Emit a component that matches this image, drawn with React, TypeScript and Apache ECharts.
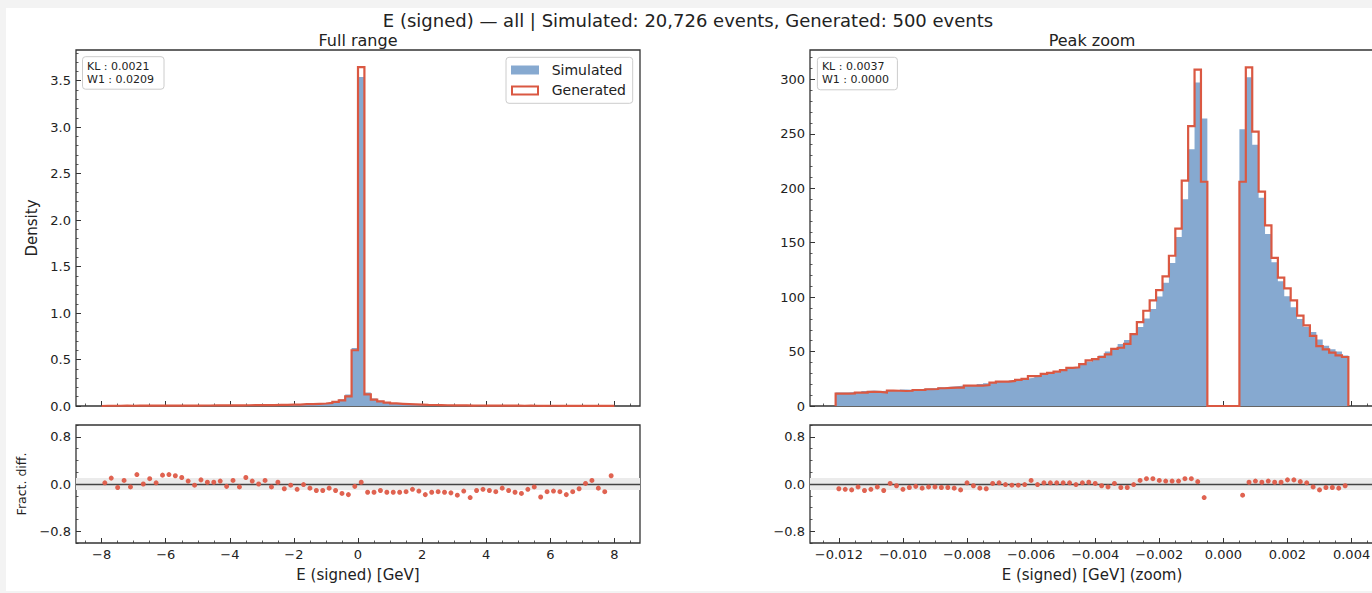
import React, { useEffect, useRef } from 'react';
import * as echarts from 'echarts';

// ---------- data ----------
const FULL_BIN_START = -8;
const FULL_BIN_WIDTH = 0.2;
const ZOOM_BIN_START = -0.0121;
const ZOOM_BIN_WIDTH = 0.0002;

const fullSimulated = [
  0.0025, 0.0026, 0.0027, 0.0028, 0.0029, 0.0030, 0.0031, 0.0032, 0.0034, 0.0035,
  0.0037, 0.0039, 0.0041, 0.0043, 0.0046, 0.0049, 0.0052, 0.0055, 0.0058, 0.0061,
  0.0065, 0.0070, 0.0075, 0.0081, 0.0088, 0.0096, 0.0106, 0.0118, 0.0133, 0.0150,
  0.0170, 0.0195, 0.0225, 0.0260, 0.0300, 0.0360, 0.0500, 0.0720, 0.1250, 0.6250,
  3.5400, 0.1450, 0.0800, 0.0560, 0.0420, 0.0330, 0.0270, 0.0225, 0.0190, 0.0162,
  0.0140, 0.0122, 0.0107, 0.0095, 0.0085, 0.0076, 0.0069, 0.0063, 0.0058, 0.0053,
  0.0049, 0.0045, 0.0042, 0.0039, 0.0037, 0.0035, 0.0033, 0.0031, 0.0030, 0.0029,
  0.0028, 0.0027, 0.0026, 0.0025, 0.0024, 0.0023, 0.0022, 0.0021, 0.0020, 0.0019,
];

const fullGenerated = [
  0.00255, 0.00286, 0.00254, 0.00297, 0.00276, 0.00348, 0.00310, 0.00349, 0.00347, 0.00403,
  0.00429, 0.00445, 0.00455, 0.00452, 0.00451, 0.00524, 0.00536, 0.00567, 0.00609, 0.00586,
  0.00689, 0.00665, 0.00833, 0.00851, 0.00880, 0.01018, 0.01007, 0.01215, 0.01224, 0.01470,
  0.01547, 0.01931, 0.02093, 0.02314, 0.02670, 0.03348, 0.04450, 0.06048, 0.10250, 0.60000,
  3.64620, 0.12470, 0.06880, 0.04984, 0.03612, 0.02838, 0.02322, 0.01958, 0.01729, 0.01426,
  0.01148, 0.01049, 0.00931, 0.00817, 0.00723, 0.00616, 0.00607, 0.00485, 0.00516, 0.00482,
  0.00436, 0.00392, 0.00391, 0.00347, 0.00318, 0.00294, 0.00300, 0.00295, 0.00234, 0.00252,
  0.00246, 0.00235, 0.00213, 0.00218, 0.00221, 0.00232, 0.00233, 0.00195, 0.00174, 0.00217,
];

const fullFractDiff = [
  0.02, 0.10, -0.06, 0.06, -0.05, 0.16, 0.00, 0.09, 0.02, 0.15,
  0.16, 0.14, 0.11, 0.05, -0.02, 0.07, 0.03, 0.03, 0.05, -0.04,
  0.06, -0.05, 0.11, 0.05, 0.00, 0.06, -0.05, 0.03, -0.08, -0.02,
  -0.09, -0.01, -0.07, -0.11, -0.11, -0.07, -0.11, -0.16, -0.18, -0.04,
  0.03, -0.14, -0.14, -0.11, -0.14, -0.14, -0.14, -0.13, -0.09, -0.12,
  -0.18, -0.14, -0.13, -0.14, -0.15, -0.19, -0.12, -0.23, -0.11, -0.09,
  -0.11, -0.13, -0.07, -0.11, -0.14, -0.16, -0.09, -0.05, -0.22, -0.13,
  -0.12, -0.13, -0.18, -0.13, -0.08, 0.01, 0.06, -0.07, -0.13, 0.14,
];

const zoomSimulated = [
  12.4, 12.5, 12.9, 12.9, 13.8, 14.3, 13.7, 13.9, 14.0, 14.4,
  15.2, 14.9, 15.3, 15.8, 16.2, 16.4, 17.3, 17.7, 18.2, 18.8,
  18.3, 19.3, 20.1, 20.9, 21.3, 22.0, 22.6, 23.5, 24.5, 25.3,
  25.9, 27.9, 28.9, 29.9, 30.9, 32.4, 34.3, 35.9, 37.7, 40.8,
  42.6, 46.4, 50.0, 52.0, 56.9, 60.6, 66.7, 72.6, 80.3, 89.0,
  100.5, 113.3, 131.4, 155.2, 189.9, 235.8, 297.1, 264.1, 0, 0,
  0, 0, 0, 254.3, 301.9, 240.0, 191.3, 158.1, 132.0, 114.6,
  100.9, 90.7, 79.8, 72.5, 67.9, 61.1, 55.3, 52.1, 50.0, 46.4,
];

const zoomGenerated = [
  11.4, 11.4, 11.6, 12.3, 12.3, 13.0, 13.0, 12.4, 14.1, 14.0,
  13.8, 14.0, 14.7, 14.7, 15.4, 15.6, 16.3, 16.6, 16.9, 16.9,
  18.7, 18.7, 18.7, 19.2, 21.5, 22.4, 22.4, 23.0, 24.0, 25.0,
  27.5, 27.6, 29.5, 30.5, 31.5, 33.0, 35.0, 35.5, 38.5, 42.0,
  43.0, 45.0, 47.5, 52.5, 53.5, 57.0, 66.0, 77.0, 87.5, 97.0,
  106.5, 119.0, 138.0, 163.0, 207.0, 257.0, 309.0, 206.0, 0, 0,
  0, 0, 0, 206.0, 311.0, 252.0, 197.0, 166.0, 136.0, 118.0,
  108.0, 97.0, 83.0, 74.0, 64.5, 55.0, 52.0, 49.0, 46.5, 45.0,
];

const zoomFractDiff: (number | null)[] = [
  -0.08, -0.09, -0.10, -0.05, -0.11, -0.09, -0.05, -0.11, 0.01, -0.03,
  -0.09, -0.06, -0.04, -0.07, -0.05, -0.05, -0.06, -0.06, -0.07, -0.10,
  0.02, -0.03, -0.07, -0.08, 0.01, 0.02, -0.01, -0.02, -0.02, -0.01,
  0.06, -0.01, 0.02, 0.02, 0.02, 0.02, 0.02, -0.01, 0.02, 0.03,
  0.01, -0.03, -0.05, 0.01, -0.06, -0.06, -0.01, 0.06, 0.09, 0.09,
  0.06, 0.05, 0.05, 0.05, 0.09, 0.09, 0.04, -0.23, null, null,
  null, null, null, -0.19, 0.03, 0.05, 0.03, 0.05, 0.03, 0.03,
  0.07, 0.07, 0.04, 0.02, -0.05, -0.10, -0.06, -0.06, -0.07, -0.03,
];

const fullXTicks = [-8, -6, -4, -2, 0, 2, 4, 6, 8];
const fullYTicks = [0, 0.5, 1, 1.5, 2, 2.5, 3, 3.5];
const zoomXTicks = [-0.012, -0.01, -0.008, -0.006, -0.004, -0.002, 0, 0.002, 0.004];
const zoomYTicks = [0, 50, 100, 150, 200, 250, 300];
const diffYTicks = [-0.8, 0, 0.8];

const TITLE = 'E (signed) — all | Simulated: 20,726 events, Generated: 500 events';
const fullStats = ['KL : 0.0021', 'W1 : 0.0209'];
const zoomStats = ['KL : 0.0037', 'W1 : 0.0000'];

// ---------- styling ----------
const FONT = 'DejaVu Sans';
const SIM_COLOR = '#86A9D0';
const GEN_COLOR = '#DA5842';
const DOT_COLOR = '#DE5B48';
const TEXT_COLOR = '#222';
const SPINE = '#333';

function minorTicks(from: number, to: number, step: number, majors: number[]) {
  const out: number[] = [];
  const n = Math.round((to - from) / step);
  for (let i = 0; i <= n; i++) {
    const v = Math.round((from + i * step) * 1e6) / 1e6;
    if (!majors.some((m) => Math.abs(m - v) < step * 1e-3)) out.push(v);
  }
  return out;
}

const minusFmt = (digits: number) => (v: number) => {
  const s = Math.abs(v).toFixed(digits);
  return (v < -1e-12 ? '\u2212' : '') + s;
};

function stepLine(start: number, width: number, vals: number[]) {
  const pts: number[][] = [[start, 0]];
  vals.forEach((v, i) => {
    pts.push([start + i * width, v]);
    pts.push([start + (i + 1) * width, v]);
  });
  pts.push([start + vals.length * width, 0]);
  return pts;
}
function centers(start: number, width: number, vals: (number | null)[]) {
  const out: number[][] = [];
  vals.forEach((v, i) => {
    if (v !== null) out.push([start + (i + 0.5) * width, v]);
  });
  return out;
}

export default function App() {
  const ref = useRef<HTMLDivElement>(null);

  useEffect(() => {
    if (!ref.current) return;
    const chart = echarts.init(ref.current, undefined, { renderer: 'svg' });

    // layout in chart coordinates (chart origin is at page (6, 8))
    const LX = 70, RX = 804, W = 564;
    const TOP = 42, TOPH = 356, BOT = 417, BOTH = 118;

    const grids = [
      { left: LX, top: TOP, width: W, height: TOPH },
      { left: LX, top: BOT, width: W, height: BOTH },
      { left: RX, top: TOP, width: W, height: TOPH },
      { left: RX, top: BOT, width: W, height: BOTH },
    ].map((g) => ({
      ...g,
      show: true,
      borderColor: SPINE,
      borderWidth: 1.3,
      backgroundColor: '#fff',
      containLabel: false,
      outerBoundsMode: 'none',
    }));

    const labelStyle = { color: TEXT_COLOR, fontSize: 13, fontFamily: FONT };

    const axis = (
      dim: 'x' | 'y',
      gridIndex: number,
      min: number,
      max: number,
      ticks: number[],
      major: boolean,
      showLabels: boolean,
      fmt?: (v: number) => string,
    ) => ({
      type: 'value',
      gridIndex,
      min,
      max,
      position: dim === 'x' ? 'bottom' : 'left',
      axisLine: { show: false, onZero: false },
      splitLine: { show: false },
      axisTick: {
        show: true,
        inside: true,
        length: major ? 5 : 2.5,
        customValues: ticks,
        lineStyle: { color: SPINE, width: major ? 1 : 0.8 },
      },
      axisLabel: {
        show: showLabels,
        customValues: ticks,
        formatter: fmt,
        margin: 5,
        ...labelStyle,
      },
    });

    const FX_MIN = -8.8, FX_MAX = 8.8;
    const ZX_MIN = -0.0129, ZX_MAX = 0.0047;
    const FY_MAX = 3.83, ZY_MAX = 327;

    const fullXMinor = minorTicks(-8.5, 8.5, 0.5, fullXTicks);
    const fullYMinor = minorTicks(0, 3.8, 0.1, fullYTicks);
    const zoomXMinor = minorTicks(-0.0125, 0.0045, 0.0005, zoomXTicks);
    const zoomYMinor = minorTicks(0, 320, 10, zoomYTicks);
    const diffYMinor = minorTicks(-1, 1, 0.2, diffYTicks);

    const xAxis = [
      axis('x', 0, FX_MIN, FX_MAX, fullXTicks, true, false),
      axis('x', 1, FX_MIN, FX_MAX, fullXTicks, true, true, minusFmt(0)),
      axis('x', 2, ZX_MIN, ZX_MAX, zoomXTicks, true, false),
      axis('x', 3, ZX_MIN, ZX_MAX, zoomXTicks, true, true, minusFmt(3)),
      axis('x', 0, FX_MIN, FX_MAX, fullXMinor, false, false),
      axis('x', 1, FX_MIN, FX_MAX, fullXMinor, false, false),
      axis('x', 2, ZX_MIN, ZX_MAX, zoomXMinor, false, false),
      axis('x', 3, ZX_MIN, ZX_MAX, zoomXMinor, false, false),
    ];
    const yAxis = [
      axis('y', 0, 0, FY_MAX, fullYTicks, true, true, minusFmt(1)),
      axis('y', 1, -1, 1, diffYTicks, true, true, minusFmt(1)),
      axis('y', 2, 0, ZY_MAX, zoomYTicks, true, true, minusFmt(0)),
      axis('y', 3, -1, 1, diffYTicks, true, true, minusFmt(1)),
      axis('y', 0, 0, FY_MAX, fullYMinor, false, false),
      axis('y', 1, -1, 1, diffYMinor, false, false),
      axis('y', 2, 0, ZY_MAX, zoomYMinor, false, false),
      axis('y', 3, -1, 1, diffYMinor, false, false),
    ];

    // filled step histogram (one polygon, no seams)
    const simSeries = (idx: number, data: number[][]) => ({
      type: 'line',
      name: 'Simulated',
      xAxisIndex: idx,
      yAxisIndex: idx,
      data,
      symbol: 'none',
      z: 2,
      lineStyle: { width: 0, color: SIM_COLOR },
      itemStyle: { color: SIM_COLOR },
      areaStyle: { color: SIM_COLOR, opacity: 1, origin: 'start' },
    });

    const genSeries = (idx: number, data: number[][]) => ({
      type: 'line',
      name: 'Generated',
      xAxisIndex: idx,
      yAxisIndex: idx,
      data,
      symbol: 'none',
      z: 4,
      clip: false,
      lineStyle: { color: GEN_COLOR, width: 2.2, join: 'miter' },
      itemStyle: { color: GEN_COLOR },
    });

    const bandSeries = (idx: number) => ({
      type: 'line',
      name: 'band',
      xAxisIndex: idx,
      yAxisIndex: idx,
      data: [],
      z: 1,
      markArea: {
        silent: true,
        itemStyle: { color: '#EBEBEB' },
        data: [[{ yAxis: -0.1 }, { yAxis: 0.1 }]],
      },
      markLine: {
        silent: true,
        symbol: 'none',
        label: { show: false },
        lineStyle: { color: '#444', width: 1.4, type: 'solid' },
        data: [{ yAxis: 0 }],
      },
    });

    const dotSeries = (idx: number, data: number[][]) => ({
      type: 'scatter',
      name: 'Fract. diff.',
      xAxisIndex: idx,
      yAxisIndex: idx,
      data,
      symbol: 'circle',
      symbolSize: 5,
      z: 5,
      itemStyle: { color: DOT_COLOR, opacity: 0.95 },
    });

    const txt = (x: number, y: number, text: string, size: number, extra: any = {}) => ({
      type: 'text',
      x,
      y,
      z: 100,
      ...extra,
      style: {
        text,
        fill: TEXT_COLOR,
        fontSize: size,
        fontFamily: FONT,
        align: 'center',
        verticalAlign: 'middle',
        ...(extra.style || {}),
      },
    });

    const statsBox = (x: number, y: number, w: number, lines: string[]) => [
      {
        type: 'rect',
        z: 99,
        shape: { x, y, width: w, height: 32.5, r: 3 },
        style: { fill: 'rgba(255,255,255,0.9)', stroke: '#CCCCCC', lineWidth: 1 },
      },
      txt(x + 4.5, y + 9.5, lines[0], 11, { style: { align: 'left' } }),
      txt(x + 4.5, y + 22.5, lines[1], 11, { style: { align: 'left' } }),
    ];

    const graphic: any[] = [
      txt(682, 12, TITLE, 18),
      txt(LX + W / 2, 32, 'Full range', 16),
      txt(RX + W / 2, 32, 'Peak zoom', 16),
      txt(26, TOP + TOPH / 2, 'Density', 15, { rotation: Math.PI / 2 }),
      txt(15, BOT + BOTH / 2, 'Fract. diff.', 12.5, { rotation: Math.PI / 2 }),
      txt(LX + W / 2, 567, 'E (signed) [GeV]', 15),
      txt(RX + W / 2, 567, 'E (signed) [GeV] (zoom)', 15),
      ...statsBox(76.5, 48.7, 81.5, fullStats),
      ...statsBox(811.4, 49.3, 80, zoomStats),
      // legend
      {
        type: 'rect',
        z: 99,
        shape: { x: 500, y: 49.3, width: 126.7, height: 46, r: 3 },
        style: { fill: 'rgba(255,255,255,0.9)', stroke: '#CCCCCC', lineWidth: 1 },
      },
      {
        type: 'rect',
        z: 100,
        shape: { x: 505, y: 57.5, width: 28, height: 9 },
        style: { fill: SIM_COLOR },
      },
      {
        type: 'rect',
        z: 100,
        shape: { x: 506, y: 78.5, width: 26, height: 8 },
        style: { fill: '#fff', stroke: GEN_COLOR, lineWidth: 2 },
      },
      txt(545.7, 61.7, 'Simulated', 14, { style: { align: 'left' } }),
      txt(545.7, 82.3, 'Generated', 14, { style: { align: 'left' } }),
    ];

    chart.setOption({
      animation: false,
      backgroundColor: '#fff',
      textStyle: { fontFamily: FONT },
      grid: grids,
      xAxis,
      yAxis,
      graphic,
      series: [
        simSeries(0, stepLine(FULL_BIN_START, FULL_BIN_WIDTH, fullSimulated)),
        genSeries(0, stepLine(FULL_BIN_START, FULL_BIN_WIDTH, fullGenerated)),
        bandSeries(1),
        dotSeries(1, centers(FULL_BIN_START, FULL_BIN_WIDTH, fullFractDiff)),
        simSeries(2, stepLine(ZOOM_BIN_START, ZOOM_BIN_WIDTH, zoomSimulated)),
        genSeries(2, stepLine(ZOOM_BIN_START, ZOOM_BIN_WIDTH, zoomGenerated)),
        bandSeries(3),
        dotSeries(3, centers(ZOOM_BIN_START, ZOOM_BIN_WIDTH, zoomFractDiff)),
      ],
    });

    return () => chart.dispose();
  }, []);

  return (
    <div
      style={{
        position: 'fixed',
        left: 0,
        top: 0,
        width: 1372,
        height: 593,
        background: '#F3F3F3',
        overflow: 'hidden',
      }}
    >
      <div
        ref={ref}
        style={{ position: 'absolute', left: 6, top: 8, width: 1400, height: 583, background: '#fff' }}
      />
    </div>
  );
}
